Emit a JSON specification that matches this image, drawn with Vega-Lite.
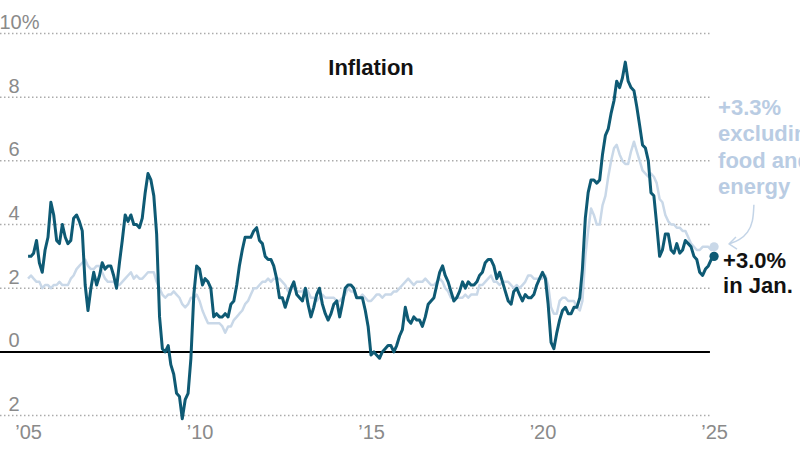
{
  "$schema": "https://vega.github.io/schema/vega-lite/v6.json",
  "width": 800,
  "height": 450,
  "autosize": "none",
  "padding": 0,
  "background": "white",
  "config": {"view": {"stroke": null}},
  "datasets": {
    "cpi": [
      {"d":"2005-01","h":3.0,"c":2.3},{"d":"2005-02","h":3.0,"c":2.4},{"d":"2005-03","h":3.1,"c":2.3},{"d":"2005-04","h":3.5,"c":2.2},{"d":"2005-05","h":2.8,"c":2.2},{"d":"2005-06","h":2.5,"c":2.0},{"d":"2005-07","h":3.2,"c":2.1},{"d":"2005-08","h":3.6,"c":2.1},{"d":"2005-09","h":4.7,"c":2.0},{"d":"2005-10","h":4.3,"c":2.1},{"d":"2005-11","h":3.5,"c":2.1},{"d":"2005-12","h":3.4,"c":2.2},
      {"d":"2006-01","h":4.0,"c":2.1},{"d":"2006-02","h":3.6,"c":2.1},{"d":"2006-03","h":3.4,"c":2.1},{"d":"2006-04","h":3.5,"c":2.3},{"d":"2006-05","h":4.2,"c":2.4},{"d":"2006-06","h":4.3,"c":2.6},{"d":"2006-07","h":4.1,"c":2.7},{"d":"2006-08","h":3.8,"c":2.8},{"d":"2006-09","h":2.1,"c":2.9},{"d":"2006-10","h":1.3,"c":2.7},{"d":"2006-11","h":2.0,"c":2.6},{"d":"2006-12","h":2.5,"c":2.6},
      {"d":"2007-01","h":2.1,"c":2.7},{"d":"2007-02","h":2.4,"c":2.7},{"d":"2007-03","h":2.8,"c":2.5},{"d":"2007-04","h":2.6,"c":2.3},{"d":"2007-05","h":2.7,"c":2.2},{"d":"2007-06","h":2.7,"c":2.2},{"d":"2007-07","h":2.4,"c":2.2},{"d":"2007-08","h":2.0,"c":2.1},{"d":"2007-09","h":2.8,"c":2.1},{"d":"2007-10","h":3.5,"c":2.2},{"d":"2007-11","h":4.3,"c":2.3},{"d":"2007-12","h":4.1,"c":2.4},
      {"d":"2008-01","h":4.3,"c":2.5},{"d":"2008-02","h":4.0,"c":2.3},{"d":"2008-03","h":4.0,"c":2.4},{"d":"2008-04","h":3.9,"c":2.3},{"d":"2008-05","h":4.2,"c":2.3},{"d":"2008-06","h":5.0,"c":2.4},{"d":"2008-07","h":5.6,"c":2.5},{"d":"2008-08","h":5.4,"c":2.5},{"d":"2008-09","h":4.9,"c":2.5},{"d":"2008-10","h":3.7,"c":2.2},{"d":"2008-11","h":1.1,"c":2.0},{"d":"2008-12","h":0.1,"c":1.8},
      {"d":"2009-01","h":0.0,"c":1.7},{"d":"2009-02","h":0.2,"c":1.8},{"d":"2009-03","h":-0.4,"c":1.8},{"d":"2009-04","h":-0.7,"c":1.9},{"d":"2009-05","h":-1.3,"c":1.8},{"d":"2009-06","h":-1.4,"c":1.7},{"d":"2009-07","h":-2.1,"c":1.5},{"d":"2009-08","h":-1.5,"c":1.4},{"d":"2009-09","h":-1.3,"c":1.5},{"d":"2009-10","h":-0.2,"c":1.7},{"d":"2009-11","h":1.8,"c":1.7},{"d":"2009-12","h":2.7,"c":1.8},
      {"d":"2010-01","h":2.6,"c":1.6},{"d":"2010-02","h":2.1,"c":1.3},{"d":"2010-03","h":2.3,"c":1.1},{"d":"2010-04","h":2.2,"c":0.9},{"d":"2010-05","h":2.0,"c":0.9},{"d":"2010-06","h":1.1,"c":0.9},{"d":"2010-07","h":1.2,"c":0.9},{"d":"2010-08","h":1.1,"c":0.9},{"d":"2010-09","h":1.1,"c":0.8},{"d":"2010-10","h":1.2,"c":0.6},{"d":"2010-11","h":1.1,"c":0.8},{"d":"2010-12","h":1.5,"c":0.8},
      {"d":"2011-01","h":1.6,"c":1.0},{"d":"2011-02","h":2.1,"c":1.1},{"d":"2011-03","h":2.7,"c":1.2},{"d":"2011-04","h":3.2,"c":1.3},{"d":"2011-05","h":3.6,"c":1.5},{"d":"2011-06","h":3.6,"c":1.6},{"d":"2011-07","h":3.6,"c":1.8},{"d":"2011-08","h":3.8,"c":2.0},{"d":"2011-09","h":3.9,"c":2.0},{"d":"2011-10","h":3.5,"c":2.1},{"d":"2011-11","h":3.4,"c":2.2},{"d":"2011-12","h":3.0,"c":2.2},
      {"d":"2012-01","h":2.9,"c":2.3},{"d":"2012-02","h":2.9,"c":2.2},{"d":"2012-03","h":2.7,"c":2.3},{"d":"2012-04","h":2.3,"c":2.3},{"d":"2012-05","h":1.7,"c":2.3},{"d":"2012-06","h":1.7,"c":2.2},{"d":"2012-07","h":1.4,"c":2.1},{"d":"2012-08","h":1.7,"c":1.9},{"d":"2012-09","h":2.0,"c":2.0},{"d":"2012-10","h":2.2,"c":2.0},{"d":"2012-11","h":1.8,"c":1.9},{"d":"2012-12","h":1.7,"c":1.9},
      {"d":"2013-01","h":1.6,"c":1.9},{"d":"2013-02","h":2.0,"c":2.0},{"d":"2013-03","h":1.5,"c":1.9},{"d":"2013-04","h":1.1,"c":1.7},{"d":"2013-05","h":1.4,"c":1.7},{"d":"2013-06","h":1.8,"c":1.6},{"d":"2013-07","h":2.0,"c":1.7},{"d":"2013-08","h":1.5,"c":1.8},{"d":"2013-09","h":1.2,"c":1.7},{"d":"2013-10","h":1.0,"c":1.7},{"d":"2013-11","h":1.2,"c":1.7},{"d":"2013-12","h":1.5,"c":1.7},
      {"d":"2014-01","h":1.6,"c":1.6},{"d":"2014-02","h":1.1,"c":1.6},{"d":"2014-03","h":1.5,"c":1.7},{"d":"2014-04","h":2.0,"c":1.8},{"d":"2014-05","h":2.1,"c":2.0},{"d":"2014-06","h":2.1,"c":1.9},{"d":"2014-07","h":2.0,"c":1.9},{"d":"2014-08","h":1.7,"c":1.7},{"d":"2014-09","h":1.7,"c":1.7},{"d":"2014-10","h":1.7,"c":1.8},{"d":"2014-11","h":1.3,"c":1.7},{"d":"2014-12","h":0.8,"c":1.6},
      {"d":"2015-01","h":-0.1,"c":1.6},{"d":"2015-02","h":0.0,"c":1.7},{"d":"2015-03","h":-0.1,"c":1.8},{"d":"2015-04","h":-0.2,"c":1.8},{"d":"2015-05","h":0.0,"c":1.7},{"d":"2015-06","h":0.1,"c":1.8},{"d":"2015-07","h":0.2,"c":1.8},{"d":"2015-08","h":0.2,"c":1.8},{"d":"2015-09","h":0.0,"c":1.9},{"d":"2015-10","h":0.2,"c":1.9},{"d":"2015-11","h":0.5,"c":2.0},{"d":"2015-12","h":0.7,"c":2.1},
      {"d":"2016-01","h":1.4,"c":2.2},{"d":"2016-02","h":1.0,"c":2.3},{"d":"2016-03","h":0.9,"c":2.2},{"d":"2016-04","h":1.1,"c":2.1},{"d":"2016-05","h":1.0,"c":2.2},{"d":"2016-06","h":1.0,"c":2.2},{"d":"2016-07","h":0.8,"c":2.2},{"d":"2016-08","h":1.1,"c":2.3},{"d":"2016-09","h":1.5,"c":2.2},{"d":"2016-10","h":1.6,"c":2.1},{"d":"2016-11","h":1.7,"c":2.1},{"d":"2016-12","h":2.1,"c":2.2},
      {"d":"2017-01","h":2.5,"c":2.3},{"d":"2017-02","h":2.7,"c":2.2},{"d":"2017-03","h":2.4,"c":2.0},{"d":"2017-04","h":2.2,"c":1.9},{"d":"2017-05","h":1.9,"c":1.7},{"d":"2017-06","h":1.6,"c":1.7},{"d":"2017-07","h":1.7,"c":1.7},{"d":"2017-08","h":1.9,"c":1.7},{"d":"2017-09","h":2.2,"c":1.7},{"d":"2017-10","h":2.0,"c":1.8},{"d":"2017-11","h":2.2,"c":1.7},{"d":"2017-12","h":2.1,"c":1.8},
      {"d":"2018-01","h":2.1,"c":1.8},{"d":"2018-02","h":2.2,"c":1.8},{"d":"2018-03","h":2.4,"c":2.1},{"d":"2018-04","h":2.5,"c":2.1},{"d":"2018-05","h":2.8,"c":2.2},{"d":"2018-06","h":2.9,"c":2.3},{"d":"2018-07","h":2.9,"c":2.4},{"d":"2018-08","h":2.7,"c":2.2},{"d":"2018-09","h":2.3,"c":2.2},{"d":"2018-10","h":2.5,"c":2.1},{"d":"2018-11","h":2.2,"c":2.2},{"d":"2018-12","h":1.9,"c":2.2},
      {"d":"2019-01","h":1.6,"c":2.2},{"d":"2019-02","h":1.5,"c":2.1},{"d":"2019-03","h":1.9,"c":2.0},{"d":"2019-04","h":2.0,"c":2.1},{"d":"2019-05","h":1.8,"c":2.0},{"d":"2019-06","h":1.6,"c":2.1},{"d":"2019-07","h":1.8,"c":2.2},{"d":"2019-08","h":1.7,"c":2.4},{"d":"2019-09","h":1.7,"c":2.4},{"d":"2019-10","h":1.8,"c":2.3},{"d":"2019-11","h":2.1,"c":2.3},{"d":"2019-12","h":2.3,"c":2.3},
      {"d":"2020-01","h":2.5,"c":2.3},{"d":"2020-02","h":2.3,"c":2.4},{"d":"2020-03","h":1.5,"c":2.1},{"d":"2020-04","h":0.3,"c":1.4},{"d":"2020-05","h":0.1,"c":1.2},{"d":"2020-06","h":0.6,"c":1.2},{"d":"2020-07","h":1.0,"c":1.6},{"d":"2020-08","h":1.3,"c":1.7},{"d":"2020-09","h":1.4,"c":1.7},{"d":"2020-10","h":1.2,"c":1.6},{"d":"2020-11","h":1.2,"c":1.6},{"d":"2020-12","h":1.4,"c":1.6},
      {"d":"2021-01","h":1.4,"c":1.4},{"d":"2021-02","h":1.7,"c":1.3},{"d":"2021-03","h":2.6,"c":1.6},{"d":"2021-04","h":4.2,"c":3.0},{"d":"2021-05","h":5.0,"c":3.8},{"d":"2021-06","h":5.4,"c":4.5},{"d":"2021-07","h":5.4,"c":4.3},{"d":"2021-08","h":5.3,"c":4.0},{"d":"2021-09","h":5.4,"c":4.0},{"d":"2021-10","h":6.2,"c":4.6},{"d":"2021-11","h":6.8,"c":4.9},{"d":"2021-12","h":7.0,"c":5.5},
      {"d":"2022-01","h":7.5,"c":6.0},{"d":"2022-02","h":7.9,"c":6.4},{"d":"2022-03","h":8.5,"c":6.5},{"d":"2022-04","h":8.3,"c":6.2},{"d":"2022-05","h":8.6,"c":6.0},{"d":"2022-06","h":9.1,"c":5.9},{"d":"2022-07","h":8.5,"c":5.9},{"d":"2022-08","h":8.3,"c":6.3},{"d":"2022-09","h":8.2,"c":6.6},{"d":"2022-10","h":7.7,"c":6.3},{"d":"2022-11","h":7.1,"c":6.0},{"d":"2022-12","h":6.5,"c":5.7},
      {"d":"2023-01","h":6.4,"c":5.6},{"d":"2023-02","h":6.0,"c":5.5},{"d":"2023-03","h":5.0,"c":5.6},{"d":"2023-04","h":4.9,"c":5.5},{"d":"2023-05","h":4.0,"c":5.3},{"d":"2023-06","h":3.0,"c":4.8},{"d":"2023-07","h":3.2,"c":4.7},{"d":"2023-08","h":3.7,"c":4.3},{"d":"2023-09","h":3.7,"c":4.1},{"d":"2023-10","h":3.2,"c":4.0},{"d":"2023-11","h":3.1,"c":4.0},{"d":"2023-12","h":3.4,"c":3.9},
      {"d":"2024-01","h":3.1,"c":3.9},{"d":"2024-02","h":3.2,"c":3.8},{"d":"2024-03","h":3.5,"c":3.8},{"d":"2024-04","h":3.4,"c":3.6},{"d":"2024-05","h":3.3,"c":3.4},{"d":"2024-06","h":3.0,"c":3.3},{"d":"2024-07","h":2.9,"c":3.2},{"d":"2024-08","h":2.5,"c":3.2},{"d":"2024-09","h":2.4,"c":3.3},{"d":"2024-10","h":2.6,"c":3.3},{"d":"2024-11","h":2.7,"c":3.3},{"d":"2024-12","h":2.9,"c":3.2},
      {"d":"2025-01","h":3.0,"c":3.3}
    ],
    "arrow": [
      {"ax":"2026-03-01","ay":4.62,"seg":"curve","o":1},
      {"ax":"2026-02-20","ay":4.08,"seg":"curve","o":2},
      {"ax":"2025-12-28","ay":3.74,"seg":"curve","o":3},
      {"ax":"2025-10-04","ay":3.52,"seg":"curve","o":4},
      {"ax":"2025-06-09","ay":3.39,"seg":"curve","o":5},
      {"ax":"2025-08-22","ay":3.61,"seg":"head","o":1},
      {"ax":"2025-06-09","ay":3.39,"seg":"head","o":2},
      {"ax":"2025-09-02","ay":3.23,"seg":"head","o":3}
    ]
  },
  "layer": [
    {
      "data": {"values": [{"g":10},{"g":8},{"g":6},{"g":4},{"g":2},{"g":-2}]},
      "mark": {"type": "rule", "color": "#ababab", "strokeWidth": 1.5, "strokeDash": [1.5, 2.5]},
      "encoding": {
        "y": {"field": "g", "type": "quantitative",
          "scale": {"domain": [-3.08, 11.05], "nice": false, "zero": false},
          "axis": {"values": [10, 8, 6, 4, 2, 0, -2], "grid": false, "domain": false, "ticks": false,
            "labelAlign": "right", "labelBaseline": "alphabetic", "labelOffset": -5,
            "labelPadding": {"condition": {"test": "datum.value == 10", "value": -39}, "value": -19},
            "labelExpr": "datum.value == 10 ? '10%' : (datum.value < 0 ? '2' : datum.label)",
            "labelFontSize": 20, "labelColor": "#8a8a8a", "title": null}},
        "x": {"datum": {"year": 2004, "month": 3, "date": 8, "utc": true}, "type": "temporal",
          "scale": {"type": "utc", "nice": false, "domain": [{"year": 2004, "month": 3, "date": 8, "utc": true}, {"year": 2027, "month": 7, "date": 5, "utc": true}]}},
        "x2": {"datum": {"year": 2024, "month": 11, "date": 18, "utc": true}}
      }
    },
    {
      "data": {"values": [{"g":0}]},
      "mark": {"type": "rule", "color": "#000000", "strokeWidth": 2},
      "encoding": {
        "y": {"field": "g", "type": "quantitative", "scale": {"domain": [-3.08, 11.05], "nice": false, "zero": false}},
        "x": {"datum": {"year": 2004, "month": 3, "date": 8, "utc": true}, "type": "temporal",
          "scale": {"type": "utc", "nice": false, "domain": [{"year": 2004, "month": 3, "date": 8, "utc": true}, {"year": 2027, "month": 7, "date": 5, "utc": true}]}},
        "x2": {"datum": {"year": 2024, "month": 11, "date": 18, "utc": true}}
      }
    },
    {
      "data": {"name": "cpi"},
      "mark": {"type": "line", "color": "#c9d8e8", "strokeWidth": 2.5, "strokeJoin": "round"},
      "encoding": {
        "x": {"field": "d", "type": "temporal",
          "scale": {"type": "utc", "nice": false, "domain": [{"year": 2004, "month": 3, "date": 8, "utc": true}, {"year": 2027, "month": 7, "date": 5, "utc": true}]},
          "axis": {"tickCount": {"interval": "year", "step": 5}, "format": "’%y", "grid": false, "domain": false, "ticks": false,
            "labelPadding": -28, "labelBaseline": "top", "labelFontSize": 20, "labelColor": "#8a8a8a", "labelFlush": false, "labelOverlap": false, "title": null}},
        "y": {"field": "c", "type": "quantitative", "scale": {"domain": [-3.08, 11.05], "nice": false, "zero": false}}
      }
    },
    {
      "data": {"name": "cpi"},
      "mark": {"type": "line", "color": "#0e5a74", "strokeWidth": 3, "strokeJoin": "round"},
      "encoding": {
        "x": {"field": "d", "type": "temporal",
          "scale": {"type": "utc", "nice": false, "domain": [{"year": 2004, "month": 3, "date": 8, "utc": true}, {"year": 2027, "month": 7, "date": 5, "utc": true}]}},
        "y": {"field": "h", "type": "quantitative", "scale": {"domain": [-3.08, 11.05], "nice": false, "zero": false}}
      }
    },
    {
      "data": {"values": [{"d": "2025-01", "h": 3.0, "c": 3.3}]},
      "mark": {"type": "point", "filled": true, "opacity": 1, "color": "#c9d8e8", "size": 85},
      "encoding": {
        "x": {"field": "d", "type": "temporal",
          "scale": {"type": "utc", "nice": false, "domain": [{"year": 2004, "month": 3, "date": 8, "utc": true}, {"year": 2027, "month": 7, "date": 5, "utc": true}]}},
        "y": {"field": "c", "type": "quantitative", "scale": {"domain": [-3.08, 11.05], "nice": false, "zero": false}}
      }
    },
    {
      "data": {"values": [{"d": "2025-01", "h": 3.0, "c": 3.3}]},
      "mark": {"type": "point", "filled": true, "opacity": 1, "color": "#0e5a74", "size": 85},
      "encoding": {
        "x": {"field": "d", "type": "temporal",
          "scale": {"type": "utc", "nice": false, "domain": [{"year": 2004, "month": 3, "date": 8, "utc": true}, {"year": 2027, "month": 7, "date": 5, "utc": true}]}},
        "y": {"field": "h", "type": "quantitative", "scale": {"domain": [-3.08, 11.05], "nice": false, "zero": false}}
      }
    },
    {
      "data": {"name": "arrow"},
      "transform": [{"filter": "datum.seg == 'curve'"}],
      "mark": {"type": "line", "color": "#c3d4e7", "strokeWidth": 1.5, "interpolate": "basis"},
      "encoding": {
        "x": {"field": "ax", "type": "temporal",
          "scale": {"type": "utc", "nice": false, "domain": [{"year": 2004, "month": 3, "date": 8, "utc": true}, {"year": 2027, "month": 7, "date": 5, "utc": true}]}},
        "y": {"field": "ay", "type": "quantitative", "scale": {"domain": [-3.08, 11.05], "nice": false, "zero": false}},
        "order": {"field": "o", "type": "quantitative"}
      }
    },
    {
      "data": {"name": "arrow"},
      "transform": [{"filter": "datum.seg == 'head'"}],
      "mark": {"type": "line", "color": "#c3d4e7", "strokeWidth": 1.5, "strokeJoin": "round"},
      "encoding": {
        "x": {"field": "ax", "type": "temporal",
          "scale": {"type": "utc", "nice": false, "domain": [{"year": 2004, "month": 3, "date": 8, "utc": true}, {"year": 2027, "month": 7, "date": 5, "utc": true}]}},
        "y": {"field": "ay", "type": "quantitative", "scale": {"domain": [-3.08, 11.05], "nice": false, "zero": false}},
        "order": {"field": "o", "type": "quantitative"}
      }
    },
    {
      "data": {"values": [{"t": "Inflation"}]},
      "mark": {"type": "text", "fontSize": 22, "fontWeight": "bold", "color": "#121212", "align": "center", "baseline": "middle"},
      "encoding": {
        "text": {"field": "t"},
        "x": {"datum": {"year": 2015, "month": 1, "date": 1, "utc": true}, "type": "temporal",
          "scale": {"type": "utc", "nice": false, "domain": [{"year": 2004, "month": 3, "date": 8, "utc": true}, {"year": 2027, "month": 7, "date": 5, "utc": true}]}},
        "y": {"datum": 8.92, "type": "quantitative", "scale": {"domain": [-3.08, 11.05], "nice": false, "zero": false}}
      }
    },
    {
      "data": {"values": [{"t": "+3.3%"}]},
      "mark": {"type": "text", "text": ["+3.3%", "excluding", "food and", "energy"], "fontSize": 22, "fontWeight": "bold", "color": "#b9cce3", "align": "left", "baseline": "alphabetic", "lineHeight": 26.5, "dx": 4},
      "encoding": {
        "x": {"datum": {"year": 2025, "month": 1, "date": 1, "utc": true}, "type": "temporal",
          "scale": {"type": "utc", "nice": false, "domain": [{"year": 2004, "month": 3, "date": 8, "utc": true}, {"year": 2027, "month": 7, "date": 5, "utc": true}]}},
        "y": {"datum": 7.44, "type": "quantitative", "scale": {"domain": [-3.08, 11.05], "nice": false, "zero": false}}
      }
    },
    {
      "data": {"values": [{"t": "+3.0%"}]},
      "mark": {"type": "text", "text": ["+3.0%", "in Jan."], "fontSize": 22, "fontWeight": "bold", "color": "#121212", "align": "left", "baseline": "alphabetic", "lineHeight": 25, "dx": 9},
      "encoding": {
        "x": {"datum": {"year": 2025, "month": 1, "date": 1, "utc": true}, "type": "temporal",
          "scale": {"type": "utc", "nice": false, "domain": [{"year": 2004, "month": 3, "date": 8, "utc": true}, {"year": 2027, "month": 7, "date": 5, "utc": true}]}},
        "y": {"datum": 2.64, "type": "quantitative", "scale": {"domain": [-3.08, 11.05], "nice": false, "zero": false}}
      }
    }
  ]
}
